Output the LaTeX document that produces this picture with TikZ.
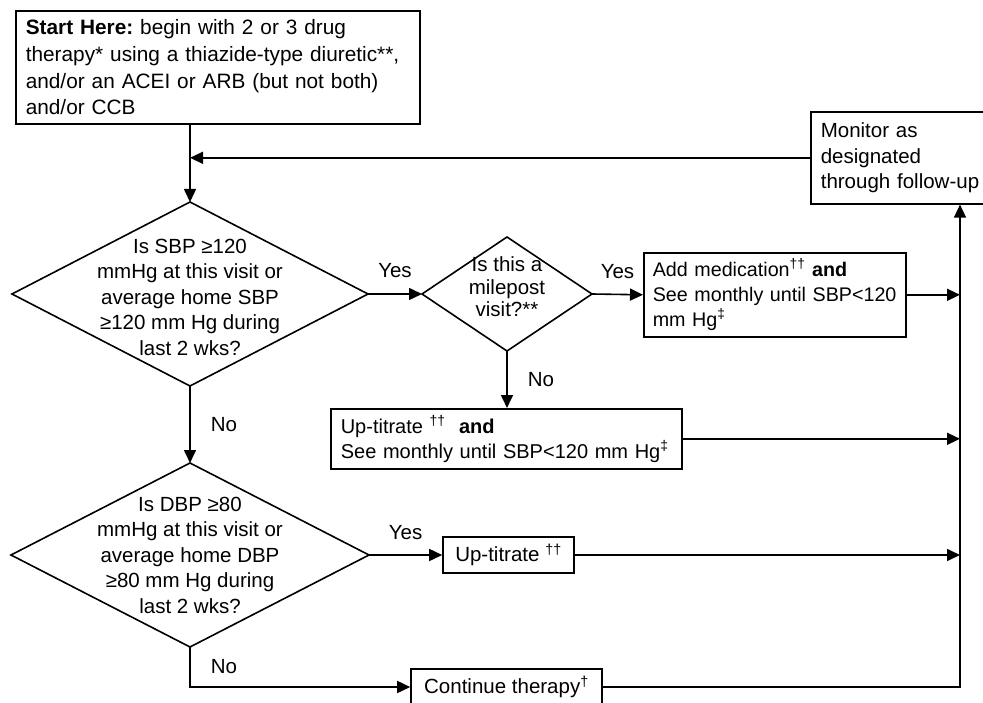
\documentclass[tikz,border=0pt]{standalone}
\usepackage{fontspec}
\setmainfont{Liberation Sans}
\frenchspacing
\usetikzlibrary{shapes.geometric}
\usetikzlibrary{arrows.meta}

\begin{document}
\begin{tikzpicture}[x=1pt,y=-1pt,
	font=\fontsize{20.5}{25.5}\selectfont,
	box/.style = {draw,line width=1.6pt,inner xsep=10pt,inner ysep=0pt,align=left},
	ques/.style = {draw,diamond,line width=1.6pt,inner sep=0pt,outer sep=0pt},
	arr/.style = {-{Triangle[length=13pt,width=12pt]},line width=1.6pt},
	lbl/.style = {inner sep=0pt}]
		\useasboundingbox (0,0) rectangle (983,703);
		\clip (0,0) rectangle (983,703);
		% boxes
		\node[box,anchor=north west,text width=384pt,minimum height=113pt,font=\fontsize{20.8}{26.6}\selectfont] (start) at (15,10){\textbf{Start Here:} begin with 2 or 3 drug\\\mbox{therapy* using a thiazide-type diuretic**,}\\\mbox{and/or an ACEI or ARB (but not both)}\\and/or CCB};
		\node[box,anchor=north west,text width=190pt,minimum height=92pt] (monitor) at (810,111){Monitor as\\designated\\\mbox{through follow-up}};
		\node[box,anchor=north west,text width=244pt,minimum height=84pt,inner xsep=9pt,font=\fontsize{19.7}{25}\selectfont] (addmed) at (643,252){\mbox{Add medication\textsuperscript{††} \textbf{and}}\\\mbox{See monthly until SBP<120}\\mm Hg\textsuperscript{‡}};
		\node[box,anchor=north west,text width=331pt,minimum height=60pt,font=\fontsize{20}{25}\selectfont] (up2) at (330,408){Up-titrate\ \textsuperscript{††}\ \ \textbf{and}\\\mbox{See monthly until SBP<120 mm Hg\textsuperscript{‡}}};
		\node[box,minimum width=131pt,minimum height=36pt] (up3) at (508.5,555){Up-titrate\ \textsuperscript{††}};
		\node[box,minimum width=191pt,minimum height=36pt] (cont) at (506.5,687){Continue therapy\textsuperscript{†}};
		% questions
		\node[ques,minimum width=356pt,minimum height=184pt] (q1) at (190,294){};
		\node[ques,minimum width=170pt,minimum height=114pt] (q2) at (507,294){};
		\node[ques,minimum width=358pt,minimum height=184pt] (q3) at (190,555){};
		\node[align=center] (q1txt) at ([yshift=-3pt]q1){Is SBP ≥120\\mmHg at this visit or\\average home SBP\\≥120 mm Hg during\\last 2 wks?};
		\node[align=center,font=\fontsize{20.5}{22.5}\selectfont] (q2txt) at ([yshift=7pt]q2){Is this a\\milepost\\visit?**};
		\node[align=center] (q3txt) at (q3){Is DBP ≥80\\mmHg at this visit or\\average home DBP\\≥80 mm Hg during\\last 2 wks?};
		% connectors
		\coordinate (bus) at (960,687);
		\draw[arr] (start.south -| q1.north) -- (q1.north);
		\draw[arr] (monitor.west) -- (monitor.west -| q1.north);
		\draw[arr] (q1.east) -- (q2.west) node[lbl,midway,above=15pt]{Yes};
		\draw[arr] (q2.east) -- (addmed.west) node[lbl,midway,above=15pt]{Yes};
		\draw[arr] (q2.south) -- (q2.south |- up2.north) node[lbl,midway,right=20pt]{No};
		\draw[arr] (q1.south) -- (q3.north) node[lbl,midway,right=20pt]{No};
		\draw[arr] (q3.east) -- (up3.west) node[lbl,midway,above=15pt]{Yes};
		\draw[arr] (q3.south) |- (cont.west) node[lbl,pos=0.25,right=20pt]{No};
		\draw[arr] (addmed.east) -- (addmed.east -| bus);
		\draw[arr] (up2.east) -- (up2.east -| bus);
		\draw[arr] (up3.east) -- (up3.east -| bus);
		\draw[arr] (cont.east) -- (bus) -- (bus |- monitor.south);
\end{tikzpicture}
\end{document}
